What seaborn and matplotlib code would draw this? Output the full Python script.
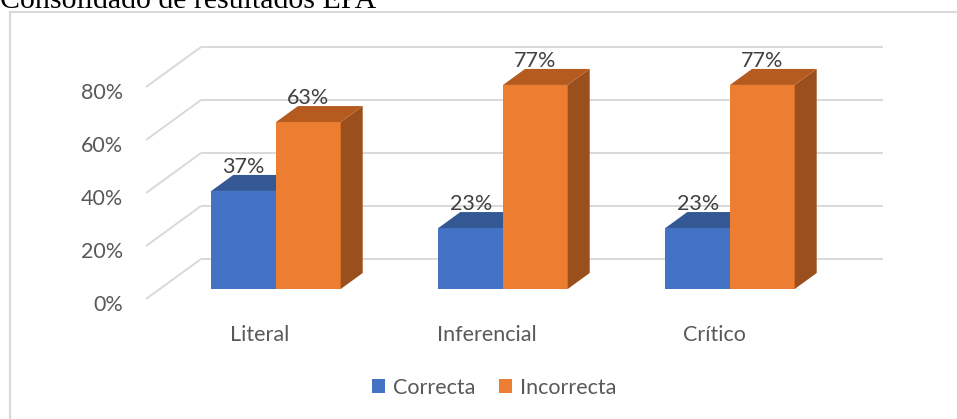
import numpy as np
import pandas as pd
import matplotlib
matplotlib.use("Agg")
import matplotlib.pyplot as plt
import seaborn as sns
from matplotlib.patches import Polygon, Rectangle, Patch
from matplotlib.transforms import ScaledTranslation

# ---------------- data ----------------
categories = ["Literal", "Inferencial", "Crítico"]
series = ["Correcta", "Incorrecta"]
correcta = [37, 23, 23]
incorrecta = [63, 77, 77]
y_ticks = [0, 20, 40, 60, 80]
y_tick_labels = ["0%", "20%", "40%", "60%", "80%"]
title = "Consolidado de resultados EPA"

df = pd.DataFrame({
    "Categoria": categories * 2,
    "Serie": [series[0]] * 3 + [series[1]] * 3,
    "Valor": correcta + incorrecta,
})

# ---------------- style ----------------
sns.set_theme(style="white")
plt.rcParams["font.family"] = ["Lato", "DejaVu Sans"]

W, H = 957, 419
DPI = 100
fig = plt.figure(figsize=(W / DPI, H / DPI), dpi=DPI)

front_cols = {"Correcta": "#4472C4", "Incorrecta": "#ED7D31"}
top_cols = {"Correcta": "#335894", "Incorrecta": "#B65B20"}
side_cols = {"Correcta": "#2B4A80", "Incorrecta": "#9A4F1C"}
grid_col = "#D9D9D9"
tick_col = "#595959"
label_col = "#404040"
FS = 15.5

# axes placed in pixel terms
ax_l, ax_r, ax_t, ax_b = 130, 900, 20, 300
ax = fig.add_axes([ax_l / W, 1 - ax_b / H, (ax_r - ax_l) / W, (ax_b - ax_t) / H])

sns.barplot(data=df, x="Categoria", y="Valor", hue="Serie", order=categories,
            hue_order=series, palette=front_cols, width=0.57, gap=0,
            saturation=1, ax=ax, legend=False, linewidth=0)

# bar plane: category i at px 276 + 227 i ; 0% at px 289, 2.65 px per %
px_cat0, px_cat_step = 276, 227
px_zero, px_per_unit = 289, 2.65
ax.set_xlim((ax_l - px_cat0) / px_cat_step, (ax_r - px_cat0) / px_cat_step)
ax.set_ylim(-(ax_b - px_zero) / px_per_unit, (px_zero - ax_t) / px_per_unit)

for s in ax.spines.values():
    s.set_visible(False)
ax.grid(False)
ax.set_xlabel("")
ax.set_ylabel("")


def px2data(dx, dy):
    """Convert pixel offset (dx right, dy up) into data deltas."""
    p0 = ax.transData.transform((0, 0))
    q = ax.transData.inverted().transform(p0 + np.array([dx, dy]))
    return q[0], q[1]


# ---- walls: back gridlines and left diagonals ----
bx, by = px2data(43, 30)     # back wall offset
fx, fy = px2data(-12, -10)   # front edge offset
x_wall = (158 - px_cat0) / px_cat_step
x_wall_end = (840 - px_cat0) / px_cat_step
for v in y_ticks:
    ax.plot([x_wall + bx, x_wall_end + bx], [v + by, v + by], color=grid_col,
            lw=1.4, zorder=0.5, clip_on=False, solid_capstyle="butt")
    ax.plot([x_wall + fx, x_wall + bx], [v + fy, v + by], color=grid_col,
            lw=1.4, zorder=0.5, clip_on=False, solid_capstyle="butt")

# ---- 3D faces for bars ----
ddx, ddy = px2data(22, 16)
for k, (cont, ser) in enumerate(zip(ax.containers, series)):
    z = 2 + k
    for bar in cont:
        bar.set_zorder(z)
        x0 = bar.get_x()
        x1 = x0 + bar.get_width()
        h = bar.get_height()
        top = Polygon([(x0, h), (x1, h), (x1 + ddx, h + ddy), (x0 + ddx, h + ddy)],
                      closed=True, facecolor=top_cols[ser], edgecolor="none",
                      zorder=z, clip_on=False)
        side = Polygon([(x1, 0), (x1, h), (x1 + ddx, h + ddy), (x1 + ddx, ddy)],
                       closed=True, facecolor=side_cols[ser], edgecolor="none",
                       zorder=z, clip_on=False)
        ax.add_patch(side)
        ax.add_patch(top)
    labels = ax.bar_label(cont, fmt="%d%%", padding=10, color=label_col,
                          fontsize=FS)
    for t in labels:
        t.set_zorder(10)

# ---- ticks ----
ax.set_yticks(y_ticks)
ax.set_yticklabels(y_tick_labels)
ax.set_xticks(range(len(categories)))
ax.set_xticklabels(categories)
ax.tick_params(axis="both", length=0, labelsize=FS, labelcolor=tick_col)
ax.tick_params(axis="y", pad=5)
ax.tick_params(axis="x", pad=18)

yoff = ScaledTranslation(0, -14 / DPI, fig.dpi_scale_trans)
for lbl in ax.get_yticklabels():
    lbl.set_transform(lbl.get_transform() + yoff)
xoff = ScaledTranslation(-16 / DPI, 0, fig.dpi_scale_trans)
for lbl in ax.get_xticklabels():
    lbl.set_transform(lbl.get_transform() + xoff)

# ---- legend ----
handles = [Patch(facecolor=front_cols[s], edgecolor="none", label=s) for s in series]
fig.legend(handles=handles, loc="center", bbox_to_anchor=(494 / W, 1 - 388 / H),
           ncol=2, frameon=False, fontsize=FS, handlelength=0.62, handleheight=0.62,
           handletextpad=0.35, columnspacing=1.1, labelcolor=tick_col,
           borderaxespad=0, borderpad=0)

# ---- chart frame and title ----
fig.patches.append(Rectangle((10 / W, -0.1), 1.2, 1.1 - 12 / H, transform=fig.transFigure,
                             fill=False, edgecolor=grid_col, lw=1.5))
fig.text(0.0, 1 - 8 / H, title, family="Liberation Serif", fontsize=21.5,
         color="black", ha="left", va="baseline")

fig.savefig("out.png", dpi=DPI)
